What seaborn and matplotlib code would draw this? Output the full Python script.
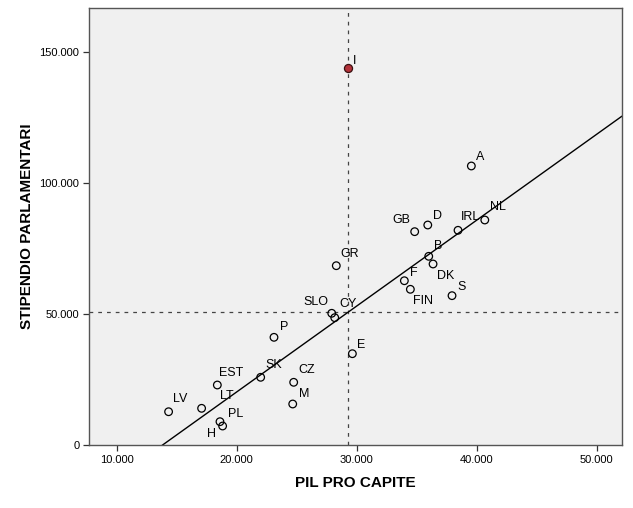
import matplotlib
matplotlib.use("Agg")
import matplotlib.pyplot as plt
import matplotlib.ticker as mticker
import seaborn as sns
import pandas as pd
import numpy as np


# Data
paesi = ['LV', 'LT', 'EST', 'PL', 'H', 'SK', 'P', 'CZ', 'M', 'SLO', 'CY', 'GR', 'E',
         'A', 'NL', 'IRL', 'GB', 'D', 'B', 'DK', 'F', 'FIN', 'S', 'I']
pil = [14330, 17080, 18390, 18610, 18830, 22000, 23110, 24750, 24670, 27920, 28170, 28300, 29640,
       39550, 40670, 38440, 34830, 35920, 36000, 36360, 33970, 34470, 37940, 29280]
stipendio = [12700, 14000, 22900, 8900, 7250, 25840, 41100, 23930, 15650, 50270, 48600, 68440, 34850,
             106500, 85880, 81950, 81430, 83970, 72020, 69090, 62700, 59430, 57000, 143900]
outlier = 'I'
rif_x = 29280   # vertical reference line
rif_y = 50650   # horizontal reference line

# label offsets in pixels (dx, dy), screen up is positive
offsets = {
    'LV': (12, 13), 'LT': (25, 12), 'EST': (14, 12), 'PL': (16, 8), 'H': (-11, -8),
    'SK': (13, 12), 'P': (10, 10), 'CZ': (13, 12), 'M': (11, 10), 'SLO': (-16, 11),
    'CY': (13, 14), 'GR': (13, 12), 'E': (9, 9), 'A': (9, 9), 'NL': (13, 13),
    'IRL': (12, 13), 'GB': (-13, 12), 'D': (10, 9), 'B': (9, 10), 'DK': (13, -12),
    'F': (9, 8), 'FIN': (13, -12), 'S': (10, 9), 'I': (7, 7),
}

df = pd.DataFrame({'paese': paesi, 'pil': pil, 'stipendio': stipendio})
normali = df[df['paese'] != outlier]
speciale = df[df['paese'] == outlier]

sns.set_style('ticks')
plt.rcParams['font.family'] = ['Liberation Sans', 'DejaVu Sans']
plt.rcParams.update({'text.color': 'black', 'axes.labelcolor': 'black',
                     'xtick.color': 'black', 'ytick.color': 'black'})

fig = plt.figure(figsize=(6.33, 5.08), dpi=100)
ax = fig.add_axes([89 / 633, 1 - 445 / 508, 533 / 633, 437 / 508])
ax.set_facecolor('#F0F0F0')
ax.set_xlim(7700, 52100)
ax.set_ylim(0, 166800)

ax.axvline(rif_x, color='#444444', lw=0.9, ls=(0, (3, 4)), zorder=1)
ax.axhline(rif_y, color='#444444', lw=0.9, ls=(0, (3, 4)), zorder=1)

sns.regplot(data=normali, x='pil', y='stipendio', scatter=False, ci=None, truncate=False,
            line_kws={'color': 'black', 'lw': 1.0}, ax=ax)

sns.scatterplot(data=normali, x='pil', y='stipendio', ax=ax, s=30,
                facecolor='none', edgecolor='black', linewidth=0.9, zorder=3)
sns.scatterplot(data=speciale, x='pil', y='stipendio', ax=ax, s=34,
                color='#B3323A', edgecolor='#3a1010', linewidth=0.9, zorder=3)

for _, r in df.iterrows():
    dx, dy = offsets[r['paese']]
    ax.annotate(r['paese'], (r['pil'], r['stipendio']), xytext=(dx * 0.72, dy * 0.72),
                textcoords='offset points', ha='center', va='center', fontsize=9, color='black')

fmt = mticker.FuncFormatter(lambda v, p: f'{int(v):,}'.replace(',', '.'))
ax.set_xticks([10000, 20000, 30000, 40000, 50000])
ax.set_yticks([0, 50000, 100000, 150000])
ax.xaxis.set_major_formatter(fmt)
ax.yaxis.set_major_formatter(fmt)
ax.tick_params(labelsize=8, length=4, width=0.9, color='#333333', labelcolor='black', pad=3)

for s in ax.spines.values():
    s.set_visible(True)
    s.set_color('#555555')
    s.set_linewidth(1.0)

ax.set_xlabel('PIL PRO CAPITE', fontsize=11, fontweight='bold', labelpad=8)
ax.set_ylabel('STIPENDIO PARLAMENTARI', fontsize=11, fontweight='bold', labelpad=4)

fig.savefig('out.png', dpi=100)
